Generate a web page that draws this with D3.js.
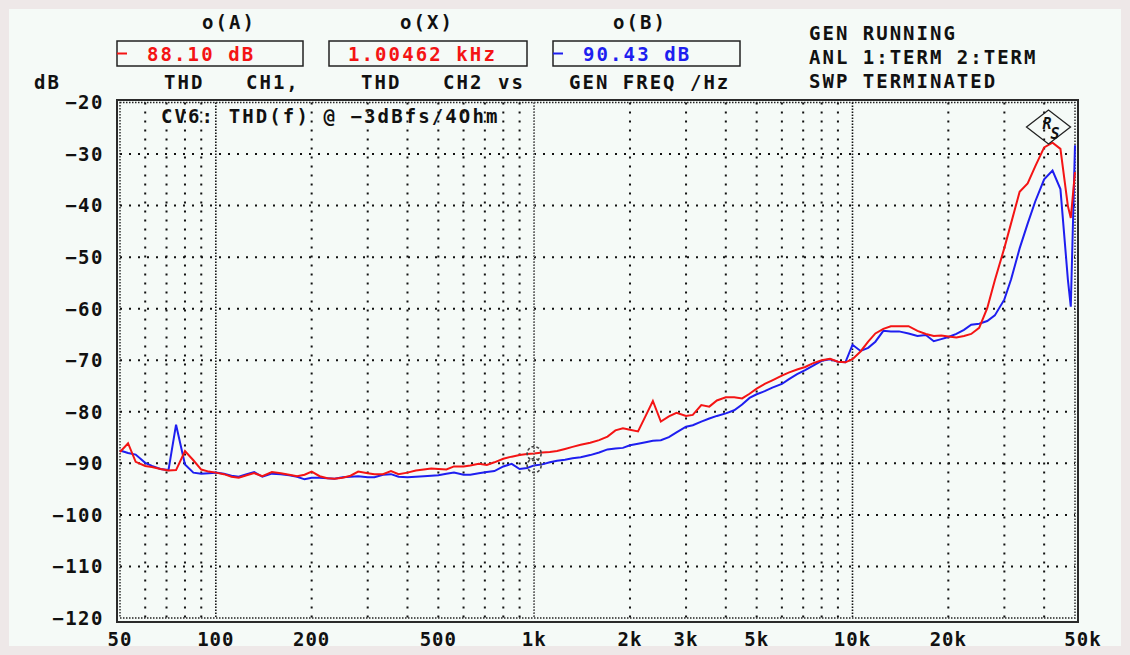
<!DOCTYPE html>
<html>
<head>
<meta charset="utf-8">
<script src="https://cdn.jsdelivr.net/npm/d3@7"></script>
<style>
  body { margin: 0; background: #eee8e8; }
  svg text { font-family: "DejaVu Sans Mono", "Liberation Mono", monospace; font-weight: bold; fill: #111; }
</style>
</head>
<body>
<svg id="chart" width="1130" height="655"></svg>
<script>
// sweep frequencies (Hz)
const freqs = [50, 53, 56, 60, 63, 67, 71, 75, 80, 85, 90, 95,
  100, 106, 112, 118, 125, 132, 140, 150, 160, 170, 180, 190,
  200, 212, 224, 236, 250, 265, 280, 300, 315, 335, 355, 375,
  400, 425, 450, 475, 500, 530, 560, 600, 630, 670, 710, 750,
  800, 850, 900, 950, 1000, 1060, 1120, 1180, 1250, 1320, 1400, 1500,
  1600, 1700, 1800, 1900, 2000, 2120, 2240, 2360, 2500, 2650, 2800, 3000,
  3150, 3350, 3550, 3750, 4000, 4250, 4500, 4750, 5000, 5300, 5600, 6000,
  6300, 6700, 7100, 7500, 8000, 8500, 9000, 9500, 10000, 10600, 11200, 11800,
  12500, 13200, 14000, 15000, 16000, 17000, 18000, 19000, 20000, 21200, 22400, 23600,
  25000, 26500, 28000, 30000, 31500, 33500, 35500, 37500, 40000, 42500, 45000, 47500,
  48500, 50000];

// THD CH1 (red), dB
const thdCh1 = [-87.8, -86.1, -89.7, -90.5, -90.7, -91.1, -91.4, -91.3, -87.6, -89.4, -91.2, -91.6,
  -91.8, -92.1, -92.6, -92.8, -92.3, -91.9, -92.5, -91.7, -91.9, -92.2, -92.5, -92.2,
  -91.6, -92.5, -92.9, -93.0, -92.8, -92.4, -91.6, -91.9, -92.1, -92.1, -91.5, -92.1,
  -91.8, -91.4, -91.2, -91.0, -91.1, -91.2, -90.6, -90.6, -90.4, -90.1, -90.3, -89.8,
  -89.1, -88.7, -88.4, -88.2, -88.1, -87.9, -87.8, -87.6, -87.2, -86.8, -86.4, -86.0,
  -85.5, -84.8, -83.6, -83.2, -83.5, -83.8, -80.8, -77.9, -81.9, -80.9, -80.2, -80.8,
  -80.6, -78.7, -79.0, -77.8, -77.2, -77.2, -77.4, -76.5, -75.5, -74.6, -73.9, -73.0,
  -72.4, -71.8, -71.3, -70.6, -70.0, -69.7, -70.3, -70.4, -69.8, -68.3, -66.4, -64.8,
  -63.9, -63.4, -63.4, -63.4, -64.3, -64.9, -65.3, -65.2, -65.4, -65.6, -65.3, -64.9,
  -63.7, -59.9, -54.5, -48.2, -43.4, -37.3, -35.7, -32.4, -28.7, -27.8, -29.0, -40.1,
  -42.4, -33.5];

// THD CH2 (blue), dB
const thdCh2 = [-87.5, -88.0, -88.3, -89.9, -90.5, -91.1, -91.3, -82.5, -90.2, -91.8, -92.0, -91.9,
  -91.8, -92.0, -92.4, -92.6, -92.1, -91.7, -92.6, -92.0, -92.1, -92.3, -92.6, -93.1,
  -92.8, -92.8, -92.9, -93.0, -92.7, -92.6, -92.5, -92.7, -92.7, -92.2, -92.1, -92.6,
  -92.7, -92.6, -92.5, -92.4, -92.3, -92.0, -91.8, -92.2, -92.2, -91.9, -91.7, -91.5,
  -90.6, -90.1, -91.1, -90.9, -90.4, -90.2, -89.8, -89.5, -89.3, -89.0, -88.8, -88.4,
  -87.9, -87.3, -87.1, -87.0, -86.5, -86.2, -85.9, -85.6, -85.5, -84.9, -84.0, -82.9,
  -82.6, -81.9, -81.3, -80.8, -80.3, -79.7, -78.6, -77.3, -76.6, -76.0, -75.3, -74.6,
  -73.7, -72.7, -71.9, -71.1, -70.1, -69.8, -70.3, -70.4, -67.0, -68.2, -67.6, -66.4,
  -64.3, -64.4, -64.4, -64.8, -65.3, -65.1, -66.3, -65.9, -65.5, -64.9, -64.1, -63.1,
  -62.9, -62.4, -61.3, -58.2, -54.3, -48.3, -43.5, -39.2, -34.9, -33.2, -36.8, -54.4,
  -59.6, -28.3];

const dbTicks = [-20, -30, -40, -50, -60, -70, -80, -90, -100, -110, -120];
const freqTicks = [50, 100, 200, 500, 1000, 2000, 3000, 5000, 10000, 20000, 50000];
const freqTickLabels = ['50', '100', '200', '500', '1k', '2k', '3k', '5k', '10k', '20k', '50k'];
const minorGrid = [60, 70, 80, 90, 200, 300, 400, 500, 600, 700, 800, 900,
  2000, 3000, 4000, 5000, 6000, 7000, 8000, 9000, 20000, 30000, 40000];
const majorGrid = [100, 1000, 10000];

// cursor readouts
const cursorFreq = 1000;
const cursorA = -88.10;
const cursorB = -90.43;
const statusLines = ['GEN RUNNING', 'ANL 1:TERM 2:TERM', 'SWP TERMINATED'];

const RED = '#f41414';
const BLUE = '#1e1ef0';

const svg = d3.select('#chart');

// page panel
svg.append('rect')
  .attr('x', 9).attr('y', 9).attr('width', 1112).attr('height', 637)
  .attr('fill', '#f5faf7');

const x = d3.scaleLog().domain([50, 50000]).range([120, 1075]);
const y = d3.scaleLinear().domain([-20, -120]).range([102.5, 618]);

// grid: dotted horizontals
const grid = svg.append('g');
grid.selectAll('.hgrid')
  .data(dbTicks.slice(1, -1))
  .enter().append('line')
    .attr('x1', x(50)).attr('x2', x(50000))
    .attr('y1', d => y(d)).attr('y2', d => y(d))
    .attr('stroke', '#111').attr('stroke-width', 2)
    .attr('stroke-dasharray', '2,7');

grid.selectAll('.vgrid')
  .data(minorGrid)
  .enter().append('line')
    .attr('x1', d => x(d)).attr('x2', d => x(d))
    .attr('y1', y(-20)).attr('y2', y(-120))
    .attr('stroke', '#111').attr('stroke-width', 2)
    .attr('stroke-dasharray', '2,7');

grid.selectAll('.vmajor')
  .data(majorGrid)
  .enter().append('line')
    .attr('x1', d => x(d)).attr('x2', d => x(d))
    .attr('y1', y(-20)).attr('y2', y(-120))
    .attr('stroke', '#111').attr('stroke-width', 1.6)
    .attr('stroke-dasharray', '1.5,1.5');

// dense dotted border of the plot area
grid.append('rect')
  .attr('x', x(50)).attr('y', y(-20))
  .attr('width', x(50000) - x(50)).attr('height', y(-120) - y(-20))
  .attr('fill', 'none').attr('stroke', '#222').attr('stroke-width', 1.4)
  .attr('stroke-dasharray', '1.5,1.5');

// solid frame
svg.append('rect')
  .attr('x', 117).attr('y', 100).attr('width', 961).attr('height', 522)
  .attr('fill', 'none').attr('stroke', '#2a2a2a').attr('stroke-width', 2);

// y tick labels
svg.append('g').selectAll('text')
  .data(dbTicks)
  .enter().append('text')
    .attr('x', 104).attr('y', d => y(d))
    .attr('dy', '0.36em')
    .attr('text-anchor', 'end')
    .attr('font-size', 19).attr('letter-spacing', 1.5)
    .text(d => '\u2212' + Math.abs(d));

// x tick labels
svg.append('g').selectAll('text')
  .data(freqTicks)
  .enter().append('text')
    .attr('x', (d, i) => x(d) + (i === freqTicks.length - 1 ? 8 : 0))
    .attr('y', 646)
    .attr('text-anchor', 'middle')
    .attr('font-size', 19).attr('letter-spacing', 1)
    .text((d, i) => freqTickLabels[i]);

// curves
const line = d3.line()
  .x((d, i) => x(freqs[i]))
  .y(d => y(d));

svg.append('path')
  .datum(thdCh2)
  .attr('d', line)
  .attr('fill', 'none').attr('stroke', BLUE).attr('stroke-width', 2);

svg.append('path')
  .datum(thdCh1)
  .attr('d', line)
  .attr('fill', 'none').attr('stroke', RED).attr('stroke-width', 2);

// cursor
svg.append('line')
  .attr('x1', x(cursorFreq)).attr('x2', x(cursorFreq))
  .attr('y1', y(-20)).attr('y2', y(-120))
  .attr('stroke', '#8a8a8a').attr('stroke-width', 1.2)
  .attr('stroke-dasharray', '1.5,1.5');

svg.selectAll('.cursor')
  .data([cursorA, cursorB])
  .enter().append('circle')
    .attr('cx', x(cursorFreq)).attr('cy', d => y(d))
    .attr('r', 7)
    .attr('fill', 'none').attr('stroke', '#444').attr('stroke-width', 1.6)
    .attr('stroke-dasharray', '3,2');

// in-plot title
svg.append('text')
  .attr('x', 161).attr('y', 123)
  .attr('font-size', 19).attr('letter-spacing', 2.1)
  .text('CV6: THD(f) @ \u22123dBfs/4Ohm');

// R&S logo
const logo = svg.append('g').attr('transform', 'translate(1048.5,127)');
logo.append('path')
  .attr('d', 'M-22,0 L0,-17 L22,0 L0,17 Z')
  .attr('fill', 'none').attr('stroke', '#222').attr('stroke-width', 1.3);
logo.append('text').attr('x', -6).attr('y', 2)
  .attr('font-size', 15).attr('font-weight', 'normal').attr('font-style', 'italic')
  .text('R');
logo.append('text').attr('x', 2).attr('y', 12)
  .attr('font-size', 15).attr('font-weight', 'normal').attr('font-style', 'italic')
  .text('S');

// header readouts
const header = svg.append('g').attr('font-size', 19);
const boxes = [
  { title: 'o(A)', tx: 229, x0: 117, x1: 303, text: (-cursorA).toFixed(2) + ' dB', color: RED, marker: RED, textX: 147 },
  { title: 'o(X)', tx: 427, x0: 329, x1: 527, text: (cursorFreq / 1000 + 0.00462).toFixed(5) + ' kHz', color: RED, marker: null, textX: 348 },
  { title: 'o(B)', tx: 640, x0: 553, x1: 740, text: (-cursorB).toFixed(2) + ' dB', color: BLUE, marker: BLUE, textX: 583 }
];

boxes.forEach(b => {
  header.append('text')
    .attr('x', b.tx).attr('y', 29)
    .attr('text-anchor', 'middle').attr('letter-spacing', 2)
    .attr('font-size', 19)
    .text(b.title);
  header.append('rect')
    .attr('x', b.x0).attr('y', 41).attr('width', b.x1 - b.x0).attr('height', 25)
    .attr('fill', 'none').attr('stroke', '#222').attr('stroke-width', 1.5);
  if (b.marker) {
    header.append('line')
      .attr('x1', b.x0).attr('x2', b.x0 + 10).attr('y1', 53.5).attr('y2', 53.5)
      .attr('stroke', b.marker).attr('stroke-width', 2);
  }
  header.append('text')
    .attr('x', b.textX).attr('y', 60.5)
    .attr('letter-spacing', 2.1)
    .style('fill', b.color)
    .text(b.text);
});

// axis captions below the boxes
const captions = [
  { x: 34, t: 'dB' }, { x: 164, t: 'THD' }, { x: 246, t: 'CH1,' },
  { x: 361, t: 'THD' }, { x: 443, t: 'CH2' }, { x: 498, t: 'vs' },
  { x: 569, t: 'GEN FREQ /Hz' }
];
header.selectAll('.cap')
  .data(captions)
  .enter().append('text')
    .attr('x', d => d.x).attr('y', 89)
    .attr('letter-spacing', 2)
    .text(d => d.t);

// status lines
header.selectAll('.status')
  .data(statusLines)
  .enter().append('text')
    .attr('x', 809).attr('y', (d, i) => 40 + i * 24)
    .attr('letter-spacing', 2)
    .text(d => d);
</script>
</body>
</html>
